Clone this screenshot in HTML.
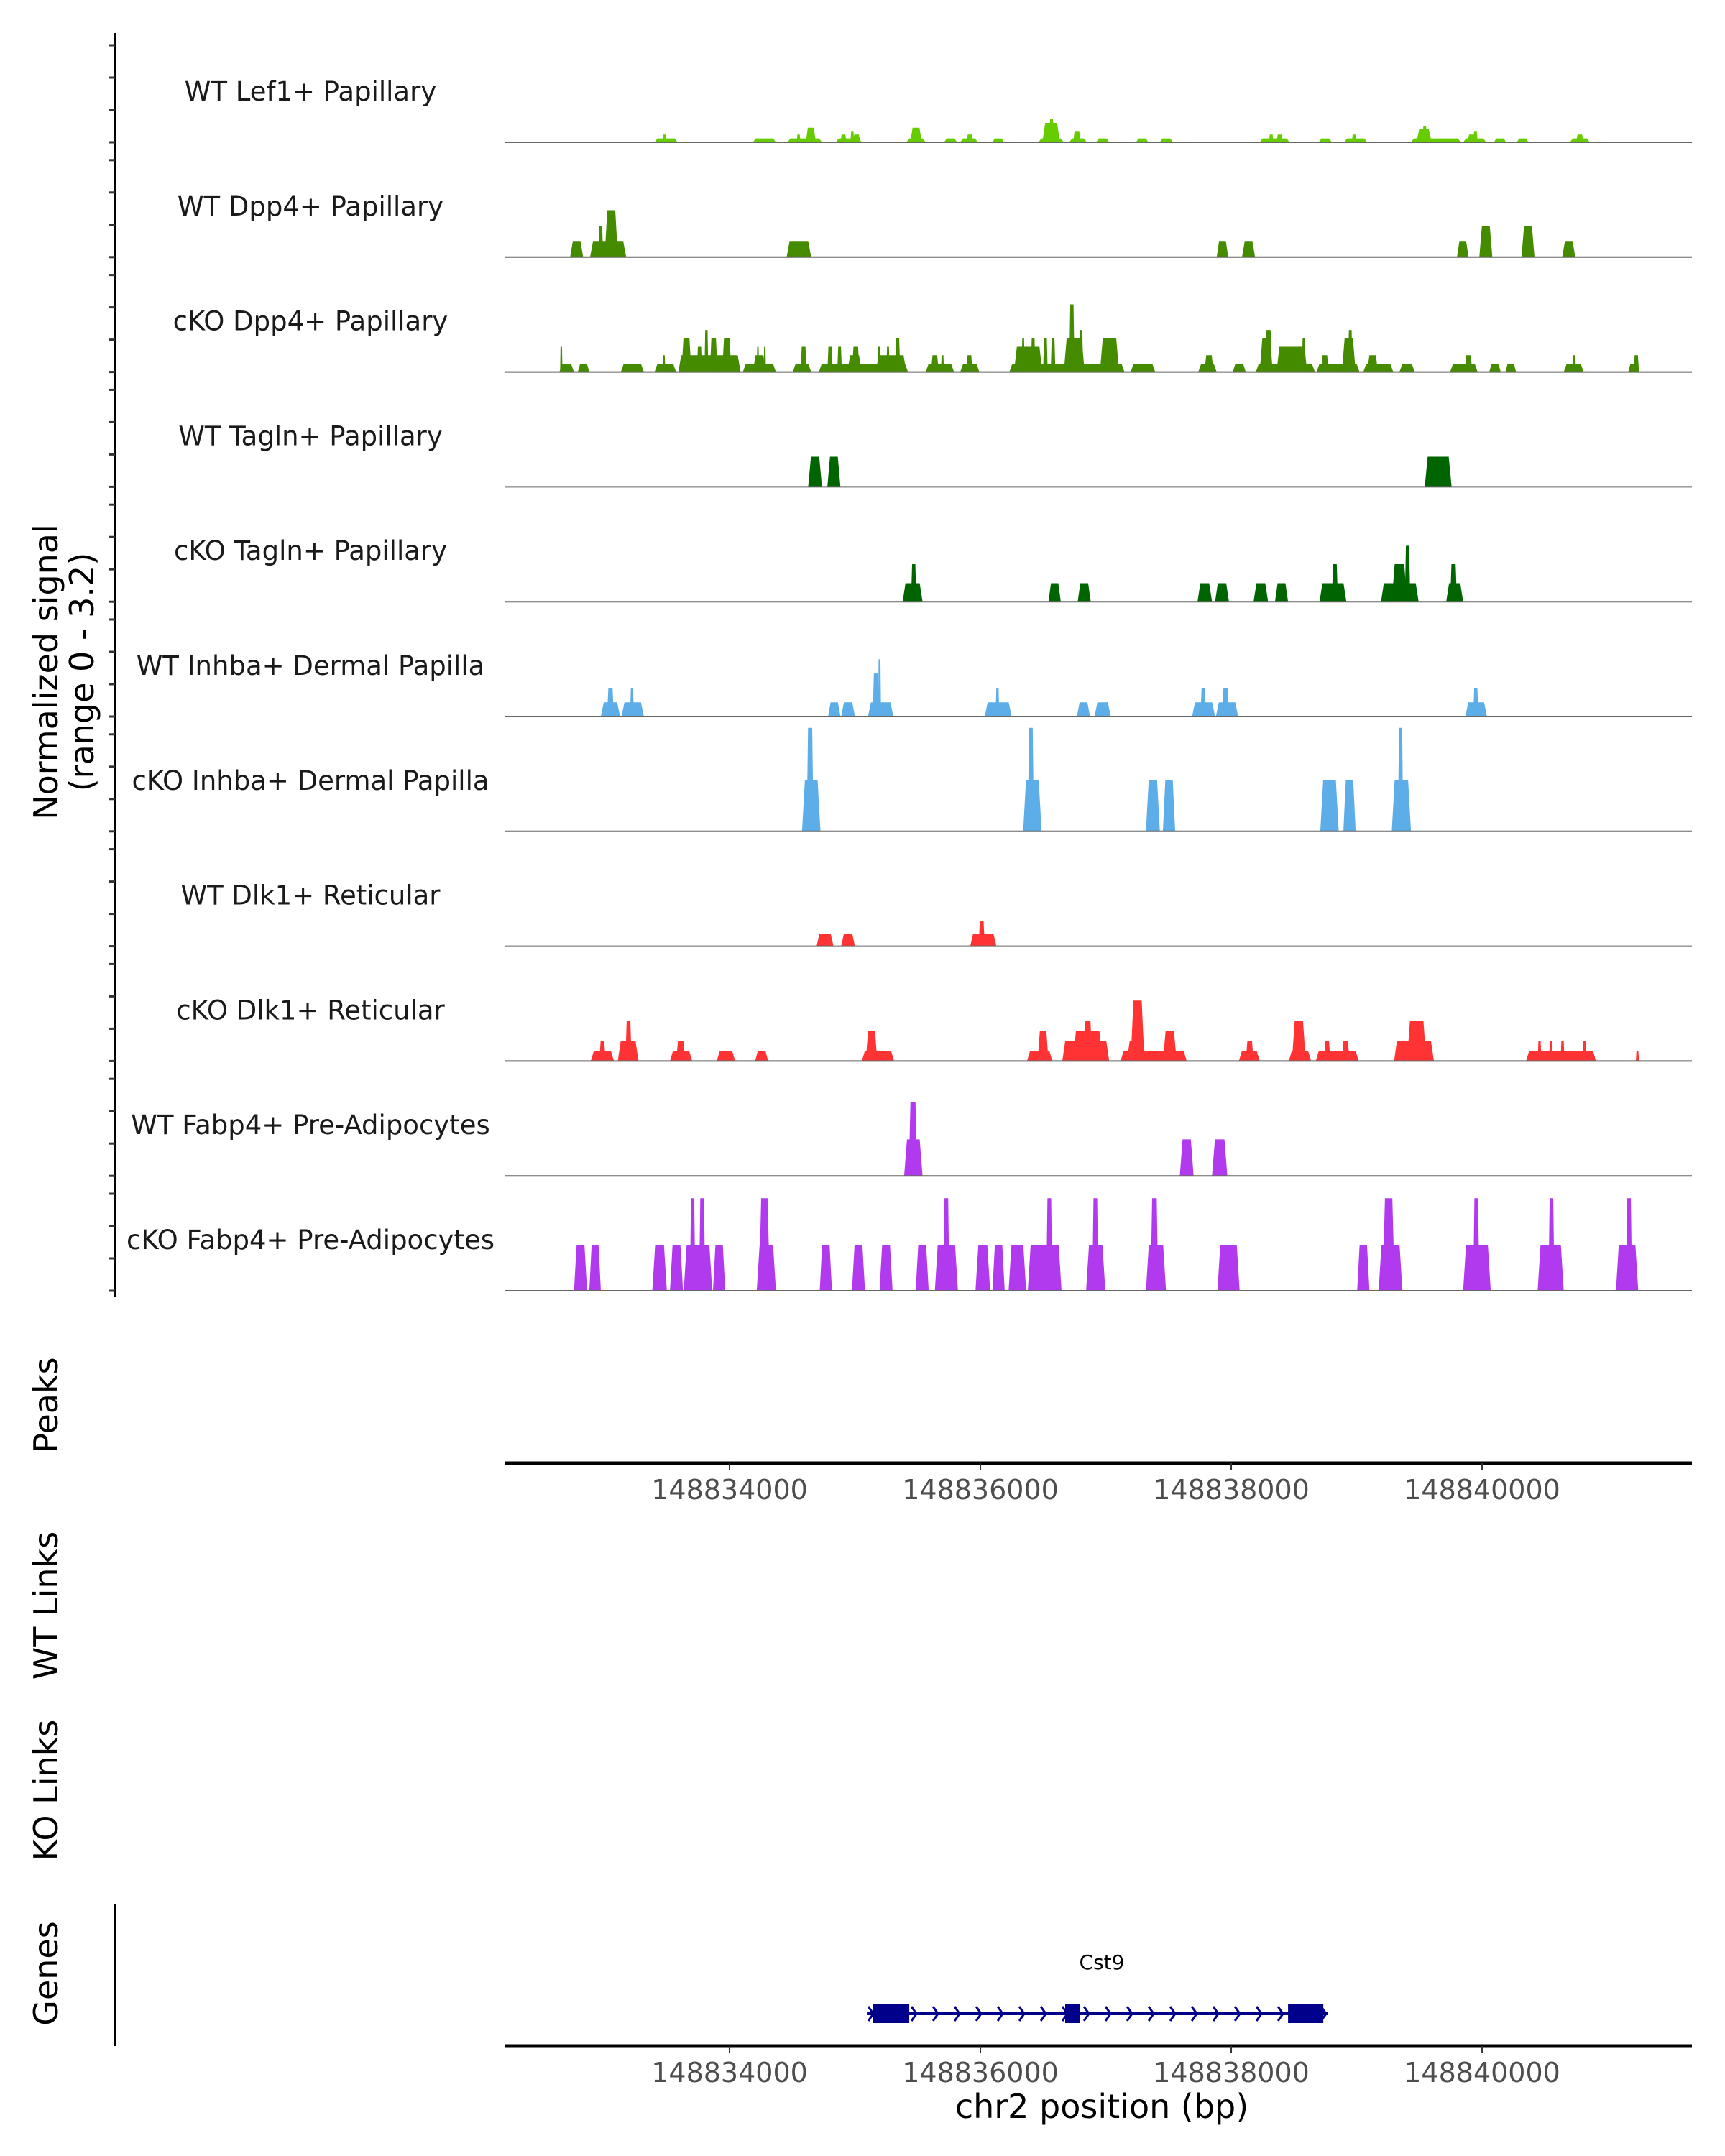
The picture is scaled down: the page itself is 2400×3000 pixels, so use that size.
<!DOCTYPE html>
<html><head><meta charset="utf-8">
<style>
html,body{margin:0;padding:0;background:#fff;}
svg{display:block;font-family:"DejaVu Sans","Liberation Sans",sans-serif;}
</style></head>
<body>
<svg id="chart" width="2400" height="3000" viewBox="0 0 2400 3000" xmlns="http://www.w3.org/2000/svg"></svg>
<script>
// ---- data (positions in kb offset from 148830000, heights in normalized signal) ----
const regionStartKb = 2.212;
const regionEndKb = 11.673;
const axisTicksBp = [148834000, 148836000, 148838000, 148840000];
const trackNames = ["WT Lef1+ Papillary","WT Dpp4+ Papillary","cKO Dpp4+ Papillary","WT Tagln+ Papillary","cKO Tagln+ Papillary","WT Inhba+ Dermal Papilla","cKO Inhba+ Dermal Papilla","WT Dlk1+ Reticular","cKO Dlk1+ Reticular","WT Fabp4+ Pre-Adipocytes","cKO Fabp4+ Pre-Adipocytes"];
const trackColors = ["#66cc00","#458b00","#458b00","#006400","#006400","#5dade8","#5dade8","#ff3333","#ff3333","#b23aee","#b23aee"];
const yTicks = [0,1,2,3];

const wtLef1 = [[3.402,3.586,0.12],[3.464,3.500,0.24],[4.186,4.370,0.12],[4.462,4.737,0.12],[4.535,4.566,0.24],[4.608,4.688,0.45],
[4.847,5.055,0.12],[4.884,4.933,0.24],[4.964,4.994,0.35],[4.982,5.043,0.24],[5.410,5.564,0.12],[5.441,5.533,0.45],
[5.710,5.814,0.12],[5.839,5.980,0.12],[5.888,5.943,0.24],[6.096,6.188,0.12],[6.463,6.665,0.12],[6.494,6.635,0.6],[6.549,6.586,0.73],
[6.708,6.849,0.12],[6.739,6.800,0.35],[6.923,7.027,0.12],[7.241,7.339,0.12],[7.431,7.535,0.12],[8.227,8.465,0.12],[8.300,8.337,0.24],[8.361,8.410,0.24],
[8.698,8.802,0.12],[8.900,9.084,0.12],[8.961,8.998,0.24],[9.433,9.831,0.12],[9.476,9.598,0.4],[9.524,9.561,0.49],
[9.849,10.033,0.12],[9.880,9.965,0.24],[9.929,9.965,0.35],[10.094,10.192,0.12],[10.277,10.369,0.12],[10.700,10.859,0.12],[10.749,10.810,0.24]];
const wtDpp4 = [[2.729,2.833,0.48],[2.888,3.176,0.48],[2.955,2.992,0.97],[3.004,3.110,1.45],[4.455,4.651,0.48],[7.884,7.976,0.48],[8.086,8.190,0.48],
[9.800,9.892,0.48],[9.978,10.082,0.97],[10.314,10.418,0.97],[10.639,10.743,0.48]];
const ckoDpp4 = [[2.643,2.760,0.25],[2.649,2.668,0.78],[2.790,2.882,0.25],[3.133,3.317,0.25],[3.402,3.574,0.25],[3.464,3.488,0.52],
[3.592,4.088,0.52],[3.617,3.696,1.04],[3.739,3.782,0.78],[3.800,3.831,1.3],[3.843,3.904,1.04],[3.941,4.015,1.04],
[4.106,4.370,0.25],[4.186,4.290,0.52],[4.217,4.235,0.78],[4.272,4.290,0.78],[4.504,4.651,0.25],[4.566,4.615,0.78],
[4.712,5.423,0.25],[4.780,4.823,0.78],[4.859,4.896,0.78],[4.939,5.055,0.52],[4.976,5.037,0.78],[5.166,5.410,0.52],[5.178,5.208,0.78],[5.251,5.276,0.78],[5.319,5.361,1.04],
[5.564,5.790,0.25],[5.606,5.668,0.52],[5.686,5.710,0.52],[5.839,5.992,0.25],[5.888,5.937,0.52],
[6.231,7.149,0.25],[6.268,6.494,0.78],[6.329,6.353,1.04],[6.402,6.439,1.04],[6.500,6.537,1.04],[6.561,6.598,1.04],[6.665,6.831,1.04],[6.708,6.751,2.09],[6.788,6.819,1.3],[6.953,7.106,1.04],
[7.198,7.394,0.25],[7.737,7.884,0.25],[7.786,7.859,0.52],[8.012,8.116,0.25],
[8.196,8.667,0.25],[8.227,8.331,1.04],[8.270,8.325,1.3],[8.361,8.606,0.78],[8.422,8.484,0.78],[8.563,8.594,1.04],
[8.680,9.023,0.25],[8.716,8.777,0.52],[8.882,8.992,1.04],[8.931,8.967,1.3],[9.053,9.292,0.25],[9.084,9.170,0.52],
[9.341,9.463,0.25],[9.745,9.965,0.25],[9.861,9.922,0.52],[10.057,10.149,0.25],[10.186,10.271,0.25],[10.651,10.810,0.25],[10.718,10.749,0.52],
[11.165,11.251,0.25],[11.208,11.251,0.52]];
const wtTagln = [[4.627,4.737,0.93],[4.780,4.884,0.93],[9.543,9.757,0.93]];
const ckoTagln = [[5.380,5.539,0.57],[5.447,5.490,1.16],[6.543,6.641,0.57],[6.776,6.880,0.57],[7.731,7.847,0.57],[7.871,7.982,0.57],
[8.178,8.294,0.57],[8.349,8.453,0.57],[8.704,8.918,0.57],[8.802,8.851,1.16],[9.194,9.494,0.57],[9.280,9.402,1.16],[9.384,9.427,1.73],
[9.714,9.849,0.57],[9.745,9.800,1.16]];
const wtInhba = [[2.974,3.127,0.44],[3.023,3.078,0.89],[3.139,3.317,0.44],[3.207,3.237,0.89],[4.786,4.884,0.44],[4.890,5.000,0.44],
[5.104,5.306,0.44],[5.141,5.190,1.33],[5.184,5.208,1.77],[6.035,6.249,0.44],[6.121,6.151,0.89],[6.770,6.874,0.44],[6.910,7.039,0.44],
[7.688,7.871,0.44],[7.755,7.798,0.89],[7.878,8.055,0.44],[7.927,7.982,0.89],[9.867,10.039,0.44],[9.929,9.971,0.89]];
const ckoInhba = [[4.578,4.725,1.59],[4.615,4.670,3.2],[6.341,6.488,1.59],[6.378,6.427,3.2],[7.320,7.431,1.59],[7.455,7.553,1.59],
[8.710,8.857,1.59],[8.894,8.992,1.59],[9.280,9.433,1.59],[9.329,9.371,3.2]];
const wtDlk1 = [[4.694,4.829,0.39],[4.890,5.000,0.39],[5.919,6.127,0.39],[5.986,6.035,0.79]];
const ckoDlk1 = [[2.894,3.078,0.3],[2.962,3.011,0.61],[3.109,3.274,0.61],[3.170,3.219,1.25],[3.525,3.702,0.3],[3.574,3.647,0.61],
[3.898,4.045,0.3],[4.204,4.308,0.3],[5.055,5.312,0.3],[5.086,5.178,0.93],[6.372,6.574,0.3],[6.457,6.543,0.93],
[6.653,7.027,0.61],[6.739,6.972,0.93],[6.819,6.892,1.25],[7.118,7.645,0.3],[7.167,7.320,0.61],[7.198,7.308,1.87],[7.455,7.565,0.93],
[8.061,8.227,0.3],[8.116,8.178,0.61],[8.459,8.637,0.3],[8.484,8.594,1.25],[8.674,9.016,0.3],[8.741,8.790,0.61],[8.882,8.943,0.61],
[9.298,9.616,0.61],[9.402,9.555,1.25],[10.351,10.908,0.3],[10.443,10.473,0.61],[10.534,10.565,0.61],[10.626,10.657,0.61],[10.798,10.834,0.61],
[11.226,11.251,0.3]];
const wtFabp4 = [[5.392,5.539,1.13],[5.429,5.496,2.28],[7.590,7.700,1.13],[7.847,7.969,1.13]];
const ckoFabp4 = [[2.760,2.864,1.42],[2.882,2.974,1.42],[3.384,3.500,1.42],[3.525,3.629,1.42],[3.635,3.862,1.42],[3.684,3.727,2.86],[3.757,3.806,2.86],
[3.868,3.966,1.42],[4.217,4.370,1.42],[4.235,4.321,2.86],[4.719,4.817,1.42],[4.976,5.080,1.42],[5.196,5.300,1.42],[5.484,5.588,1.42],
[5.637,5.821,1.42],[5.704,5.753,2.86],[5.961,6.078,1.42],[6.096,6.194,1.42],[6.225,6.365,1.42],[6.378,6.647,1.42],[6.525,6.574,2.86],
[6.843,6.996,1.42],[6.892,6.941,2.86],[7.320,7.480,1.42],[7.357,7.418,2.86],[7.890,8.067,1.42],[9.004,9.102,1.42],
[9.175,9.365,1.42],[9.206,9.304,2.86],[9.849,10.069,1.42],[9.929,9.978,2.86],[10.443,10.651,1.42],[10.529,10.577,2.86],
[11.067,11.245,1.42],[11.147,11.196,2.86]];
const trackData = [wtLef1,wtDpp4,ckoDpp4,wtTagln,ckoTagln,wtInhba,ckoInhba,wtDlk1,ckoDlk1,wtFabp4,ckoFabp4];
const geneName = "Cst9";
const geneStartKb = 5.095, geneEndKb = 8.770;
const exonStarts = [5.146, 6.676, 8.453];
const exonEnds = [5.433, 6.791, 8.734];

// ---- scales ----
const NS = "http://www.w3.org/2000/svg";
const svg = document.getElementById('chart');
const PX0 = 703, PX1 = 2354;
function xScale(kb){ return PX0 + (kb - regionStartKb) / (regionEndKb - regionStartKb) * (PX1 - PX0); }
const BASE0 = 198, TRACK_STEP = 159.8, UNIT = 45;
function baseY(i){ return BASE0 + i * TRACK_STEP; }
function yScale(i, v){ return baseY(i) - v * UNIT; }
function mk(tag, attrs, parent){ const e = document.createElementNS(NS, tag); for (const k in attrs) e.setAttribute(k, attrs[k]); (parent||svg).appendChild(e); return e; }

// left axis
const ax = mk('line', {x1:160, y1:46, x2:160, y2:1805, stroke:'#000', 'stroke-width':3});



trackData.forEach((peaks, i) => {
  const g = mk('g', {});
  
  
  yTicks.forEach(v => {
    const t = mk('line', {x1:152, x2:160, y1:yScale(i,v), y2:yScale(i,v), stroke:'#333', 'stroke-width':3}, g);
    
    
  });
  const lab = mk('text', {x:432, y:baseY(i) - 58, 'text-anchor':'middle', 'font-size':37, fill:'#1a1a1a'}, g);
  lab.textContent = trackNames[i];
  
  
  peaks.forEach(p => {
    const xs = xScale(p[0]), xe = xScale(p[1]), w = xe - xs, sl = Math.min(w * 0.2, 4);
    const y0 = baseY(i), y1 = yScale(i, p[2]);
    const poly = mk('polygon', {points:`${xs},${y0} ${xs+sl},${y1} ${xe-sl},${y1} ${xe},${y0}`, fill:trackColors[i]}, g);
    
    
  });
  const bl = mk('line', {x1:PX0, x2:PX1, y1:baseY(i), y2:baseY(i), stroke:'#666', 'stroke-width':2}, g);
  
  
});

function rotLabel(txt, x, y, name){
  const t = mk('text', {x:x, y:y, 'text-anchor':'middle', 'font-size':46, fill:'#000', transform:`rotate(-90 ${x} ${y})`});
  t.textContent = txt;
  
  
}
rotLabel('Normalized signal', 80, 935, 'y-axis-title');
rotLabel('(range 0 - 3.2)', 130, 935, 'y-axis-subtitle');
rotLabel('Peaks', 80, 1955, 'peaks-label');
rotLabel('WT Links', 80, 2234, 'wt-links-label');
rotLabel('KO Links', 80, 2491, 'ko-links-label');
rotLabel('Genes', 80, 2746, 'genes-label');

function xAxis(y, name){
  const g = mk('g', {});
  
  
  mk('line', {x1:PX0, x2:PX1, y1:y, y2:y, stroke:'#000', 'stroke-width':5}, g);
  axisTicksBp.forEach(b => {
    const x = xScale((b - 148830000) / 1000);
    mk('line', {x1:x, x2:x, y1:y, y2:y+10, stroke:'#333', 'stroke-width':2}, g);
    const t = mk('text', {x:x, y:y+50, 'text-anchor':'middle', 'font-size':38, fill:'#4d4d4d'}, g);
    t.textContent = String(b);
    
    
  });
}
xAxis(2036, 'peaks-x-axis');
xAxis(2847, 'genes-x-axis');
const xt = mk('text', {x:1533, y:2947, 'text-anchor':'middle', 'font-size':46, fill:'#000'});
xt.textContent = 'chr2 position (bp)';



const gl = mk('line', {x1:160, x2:160, y1:2649, y2:2847, stroke:'#000', 'stroke-width':3});



// gene model
const gg = mk('g', {});


const GY = 2802;
mk('line', {x1:xScale(geneStartKb), x2:xScale(geneEndKb), y1:GY, y2:GY, stroke:'#00008b', 'stroke-width':4}, gg);
for (let x = xScale(geneStartKb) + 2; x < xScale(geneEndKb) - 8; x += 30) {
  mk('polyline', {points:`${x},${GY-10} ${x+7},${GY} ${x},${GY+10}`, fill:'none', stroke:'#00008b', 'stroke-width':3}, gg);
}
exonStarts.forEach((s, j) => {
  const r = mk('rect', {x:xScale(s), y:GY-13, width:xScale(exonEnds[j]) - xScale(s), height:26, fill:'#00008b'}, gg);
  
  
});
const gn = mk('text', {x:1533, y:2740, 'text-anchor':'middle', 'font-size':28, fill:'#000'}, gg);
gn.textContent = geneName;


</script>
</body></html>
